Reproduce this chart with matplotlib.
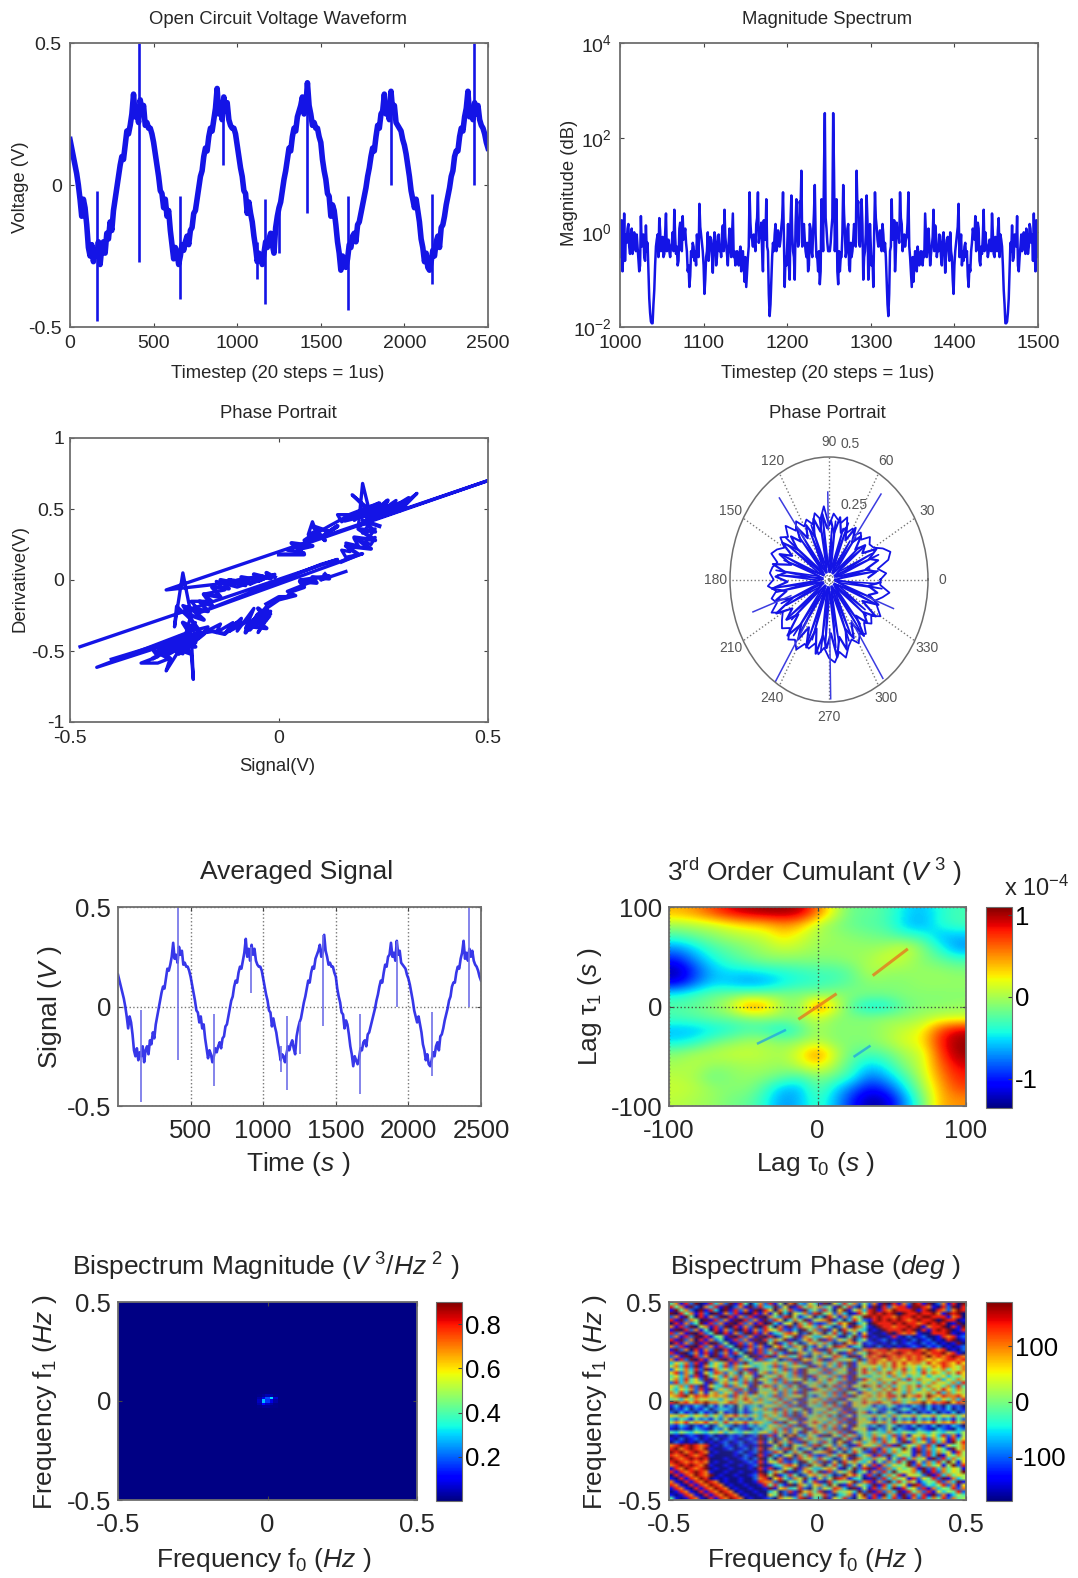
import numpy as np
import matplotlib
matplotlib.use("Agg")
import matplotlib.pyplot as plt

plt.rcParams['font.family'] = ['Liberation Sans', 'DejaVu Sans']
plt.rcParams['mathtext.fontset'] = 'custom'
plt.rcParams['mathtext.rm'] = 'Liberation Sans'
plt.rcParams['mathtext.it'] = 'Liberation Sans:italic'
plt.rcParams['mathtext.bf'] = 'Liberation Sans:bold'
plt.rcParams['text.color'] = '#262626'
plt.rcParams['axes.unicode_minus'] = False

# data
cycle1 = [.16,.13,.10,.07,.04,.0,-.05,-.11,-.05,-.08,-.14,-.22,-.25,-.21,-.27,-.23,-.25,-.20,-.28,-.22,-.20,-.24,-.17,-.19,-.13,-.16,-.09,-.05,-.01,.03,.07,.10,.09,.14,.19,.18,.21,.25,.32,.24,.26,.22,.30,.26,.28,.21,.22,.20,.20,.18]
cycle2 = [.15,.11,.07,.03,-.02,-.03,-.08,-.05,-.11,-.09,-.16,-.21,-.26,-.22,-.24,-.28,-.25,-.21,-.23,-.20,-.18,-.21,-.16,-.15,-.10,-.09,-.05,-.01,.03,.05,.10,.13,.12,.17,.20,.19,.23,.27,.34,.25,.29,.23,.31,.26,.29,.23,.21,.20,.20,.18]
cycle3 = [.14,.10,.06,.03,-.02,-.03,-.10,-.06,-.10,-.13,-.18,-.22,-.27,-.24,-.25,-.28,-.24,-.20,-.22,-.19,-.17,-.21,-.24,-.15,-.11,-.08,-.06,-.02,.02,.05,.09,.13,.12,.17,.20,.19,.24,.26,.28,.31,.25,.27,.36,.28,.25,.21,.22,.20,.20,.17]
cycle4 = [.15,.09,.05,.02,-.03,-.04,-.11,-.07,-.09,-.14,-.20,-.24,-.30,-.25,-.27,-.29,-.26,-.21,-.22,-.18,-.17,-.20,-.14,-.13,-.10,-.07,-.04,-.01,.03,.06,.10,.13,.12,.17,.21,.20,.25,.26,.32,.25,.27,.23,.33,.26,.28,.22,.21,.20,.19,.16]
cycle5 = [.14,.11,.07,.03,-.02,-.05,-.08,-.05,-.09,-.13,-.19,-.22,-.27,-.24,-.29,-.30,-.27,-.23,-.25,-.20,-.18,-.22,-.15,-.14,-.11,-.07,-.04,-.01,.03,.05,.10,.12,.12,.17,.20,.19,.24,.27,.33,.24,.27,.23,.29,.25,.28,.23,.21,.20,.18,.15,.13]
signal = cycle1 + cycle2 + cycle3 + cycle4 + cycle5
timestep = np.arange(len(signal)) * 10

spike_x = [160, 415, 660, 915, 1120, 1165, 1250, 1415, 1665, 1920, 2165, 2415]
spike_lo = [-.48, -.27, -.40, .07, -.33, -.42, -.24, -.10, -.44, .0, -.35, .0]
spike_hi = [-.02, .50, -.04, .30, -.20, -.05, -.08, .36, -.04, .33, -.03, .50]

# spectrum is symmetric about 1250: odd steps 1001..1249, even steps 1000..1248
mag_odd = [.3,.15,2.5,.9,1.2,.5,.8,.35,1.0,.4,
           .5,.15,2.2,.7,.3,1.4,.6,.04,.013,.012,
           .06,.5,.9,2.0,.4,.8,.35,2.5,.6,.4,
           .5,1.0,3.0,.35,.2,1.2,.5,2.2,.9,.6,
           .15,.07,.4,.6,.25,.2,.5,4.0,.9,.4,
           .05,.3,1.0,.5,.7,.14,1.0,.2,.6,.4,
           .3,1.4,3.0,.5,.2,1.2,.3,2.5,.4,.3,
           .25,.35,.15,.4,.09,.07,.3,7.0,.8,.5,
           .6,1.5,7.0,.9,1.6,.15,.9,5.0,.4,.017,
           .1,.6,.9,.4,1.1,.5,1.3,7.0,.07,.2,
           1.5,.1,6.0,.4,.1,5.0,.5,4.5,20,1.0,
           .7,.3,.15,1.5,.4,1.0,10,.3,.15,.08,
           5,.4,330,1.2,.4]
mag_even = [.5,1.8,.4,.25,.6,1.5,.35,1.2,.7,.5,
            .9,.3,.2,.5,.9,.25,.4,.15,.02,.012,
            .03,.2,.7,.3,1.1,.5,.3,.9,.4,.7,
            .3,.6,.4,.8,.5,.25,1.6,.4,.7,1.2,
            .4,.2,.12,.3,.5,.4,.9,.3,1.3,.6,
            .2,.1,.4,.25,.8,.3,.5,.8,.3,.9,
            .5,.9,.4,.8,.35,.6,.5,.9,.3,.2,
            .4,.2,.5,.3,.2,.3,.15,.5,1.6,.7,
            .9,.4,2.0,.6,.8,.4,1.8,.7,.5,.05,
            .03,.3,.4,1.5,.5,.8,.7,2.0,.9,.3,
            .5,.2,1.8,.9,.3,1.4,1.2,.6,3.5,.5,
            1.5,.4,.6,.2,1.2,.3,2.5,.9,.3,.4,
            .15,1.5,20,2,.6]
mag_half = [v for pair in zip(mag_even, mag_odd) for v in pair]
mag = mag_half + [.4] + mag_half[::-1]
mag_x = np.arange(1000, 1501)

pp_signal = [-.476,.14,.10,-.19,.20,.16,.15,.17,.16,.19,.18,.22,.23,.21,.23,.20,.22,.19,.20,.215,.175,.22,.25,.23,.28,.26,.30,.27,.33,.30,.31,.26,.29,.24,.27,.21,.26,.20,.24,.19,.22,.18,.20,.15,.14,.17,.12,.09,.08,.07,.10,.06,.09,.04,.06,.02,.50,-.27,-.15,-.12,-.08,-.10,-.04,-.07,-.01,-.05,-.03,-.10,-.15,-.13,-.18,-.16,-.21,-.19,-.23,-.21,-.245,-.25,-.23,-.21,-.22,-.20,-.23,-.21,-.205,-.21,-.24,-.27,-.26,-.29,-.33,-.29,-.30,-.26,-.28,-.23,-.25,-.21,-.436,-.21,-.17,-.18,-.14,-.15,-.11,-.13,-.09,-.10,-.06,-.08,-.03,-.06,-.02,-.05,-.03,-.07,-.02,-.03,.0,.04,.02,.08,.05,.12,.10,.14,.16]
pp_deriv = [-.47,.145,.11,-.23,.185,.16,.21,.20,.26,.24,.29,.25,.30,.28,.36,.33,.41,.38,.68,.50,.60,.47,.53,.46,.56,.48,.53,.47,.61,.52,.58,.49,.50,.44,.50,.42,.52,.40,.50,.46,.52,.42,.50,.41,.46,.46,.38,.33,.41,.32,.36,.28,.30,.20,.19,.21,.70,-.07,-.03,-.01,-.04,.0,.03,-.03,.04,-.01,.02,-.05,-.01,-.07,-.10,-.15,-.15,-.22,-.18,-.28,-.185,-.33,.05,-.25,-.34,-.30,-.42,-.38,-.70,-.51,-.50,-.64,-.55,-.585,-.585,-.54,-.50,-.56,-.47,-.52,-.44,-.40,-.615,-.36,-.33,-.37,-.31,-.37,-.30,-.38,-.27,-.36,-.20,-.34,-.19,-.30,-.22,-.37,-.28,-.33,-.24,-.20,-.14,-.11,-.08,-.01,.0,.03,.0,.04,.06]
nan = np.nan
blob_signal = [-.30,-.22,-.29,-.20,-.27,-.19,-.26,-.21,-.24,-.20,-.27,-.18,-.24,-.22,-.20,-.23,-.19,-.22,-.18,-.21,-.17,-.19,-.16,-.18,-.14,-.16,-.12,-.14,-.09,-.12,-.07,-.09,-.05,-.06,-.02,-.03,-.01,nan,
               -.40,-.20,-.16,-.13,-.10,-.12,-.07,-.08,-.05,-.07,-.03,-.06,-.03,-.06,-.03,-.05,-.025,nan,
               -.03,.0,.02,.03,.06,.05,.09,.08,.12,.11,nan,
               .15,.19,.16,.22,.18,.23,.19,.23,.20,.24,nan,
               .16,.27,.18,.30,.21,.26,.23,.29,.20,.24,.17,.28,.25,.31,nan,
               .0,.06,.03,.08,.05,.09,.11,.08,.12,.14,.10]
blob_deriv = [-.55,-.42,-.50,-.38,-.53,-.40,-.47,-.52,-.40,-.47,-.46,-.38,-.52,-.36,-.44,-.30,-.36,-.24,-.28,-.20,-.22,-.15,-.18,-.10,-.12,-.05,-.06,.0,-.03,.0,-.02,.02,.0,.04,.01,.05,.02,nan,
              -.56,-.38,-.36,-.38,-.30,-.36,-.28,-.37,-.24,-.35,-.22,-.33,-.34,-.28,-.28,-.20,-.26,nan,
              -.17,-.12,-.12,-.08,-.05,-.01,-.02,.02,.01,.04,nan,
              .13,.18,.24,.22,.30,.28,.36,.34,.42,.38,nan,
              .42,.50,.44,.55,.44,.56,.46,.49,.48,.54,.46,.52,.47,.57,nan,
              .18,.18,.26,.24,.22,.33,.28,.38,.34,.38,.30]

ring_r = [.26,.29,.25,.31,.33,.30,.26,.25,.27,.23,
          .25,.22,.24,.21,.27,.24,.25,.27,.22,.30,
          .25,.28,.24,.27,.25,.29,.26,.31,.27,.30,
          .26,.29,.31,.27,.29,.30,.28,.31,.27,.30,
          .28,.32,.27,.29,.31,.28,.32,.30,.33,.29,
          .30,.27,.31,.28,.32,.34,.30,.33,.29,.27,
          .30,.27,.29,.25,.28,.26,.30,.27,.25,.28,.31,.26]
ring_theta = list(range(0, 360, 5))
ring2_r = [.20,.24,.19,.26,.22,.27,.20,.23,.18,.24,
           .19,.25,.18,.23,.20,.26,.19,.24,.21,.27,
           .20,.26,.19,.25,.20,.27,.21,.26,.20,.28,
           .21,.27,.20,.29,.22,.27,.21,.29,.22,.28,
           .20,.30,.22,.27,.21,.31,.23,.29,.22,.30,
           .21,.31,.23,.28,.22,.32,.24,.30,.22,.27,
           .21,.29,.20,.26,.22,.28,.19,.27,.21,.25,.20,.26]
long_theta = [53, 91, 127, 199, 237, 271, 304, 340]
long_r = [.44, .36, .42, .41, .50, .49, .49, .35]
inner_theta = [0,8,15,22,30,37,45,52,60,67,75,82,90,97,105,112,120,127,135,142,150,157,165,172,180,187,195,202,210,217,225,232,240,247,255,262,270,277,285,292,300,307,315,322,330,337,345,352,360]
inner_r = [.03,.25,.04,.27,.03,.23,.05,.22,.03,.25,.04,.24,.03,.27,.05,.24,.03,.25,.04,.28,.03,.26,.05,.27,.03,.29,.04,.26,.03,.27,.05,.29,.03,.28,.04,.30,.03,.28,.05,.27,.03,.26,.04,.24,.03,.26,.05,.27,.03]
inner2_theta = [4,12,19,26,34,41,49,56,64,71,79,86,94,101,109,116,124,131,139,146,154,161,169,176,184,191,199,206,214,221,229,236,244,251,259,266,274,281,289,296,304,311,319,326,334,341,349,356]
inner2_r = [.05,.21,.03,.24,.05,.20,.03,.19,.05,.22,.03,.21,.05,.25,.03,.22,.05,.23,.03,.25,.05,.24,.03,.26,.05,.27,.03,.24,.05,.25,.03,.27,.05,.26,.03,.28,.05,.26,.03,.25,.05,.24,.03,.22,.05,.23,.03,.24]

lag_ticks = [-100, 0, 100]
cumulant = [  # units 1e-4, tau1 = 100 down to -100, tau0 = -100 to 100
    [.4,.5,.7,.9,1.0,1.05,1.05,1.0,.6,.1,-.2,-.2,-.3,-.5,-.6,-.4,-.3],
    [.0,.05,.1,.2,.3,.35,.5,.4,.05,-.1,-.2,-.25,-.3,-.55,-.65,-.4,-.3],
    [-.3,-.2,-.1,0,.05,.1,.3,.15,0,-.05,-.1,-.15,-.2,-.3,-.35,-.6,-.6],
    [-.7,-.5,-.3,-.2,-.1,0,.1,.05,-.05,-.05,-.05,-.05,.0,.15,-.1,-.4,-.7],
    [-1.0,-.7,-.45,-.3,-.2,-.1,-.1,-.1,-.1,-.1,-.05,.0,.15,.05,-.1,-.2,-.3],
    [-1.3,-.9,-.6,-.5,-.5,-.45,-.4,-.35,-.3,-.3,-.2,.05,-.05,-.05,-.05,-.05,-.1],
    [-1.1,-.8,-.55,-.6,-.7,-.65,-.5,-.4,-.35,-.3,-.2,-.1,-.1,-.1,-.05,-.05,-.05],
    [-.4,-.3,-.2,-.15,-.1,-.1,-.1,-.1,-.1,-.05,-.1,-.15,-.15,-.1,-.1,-.1,-.1],
    [-.25,-.2,-.1,.1,.6,.5,0,-.1,.7,.2,-.3,-.5,-.45,-.2,-.1,-.1,-.05],
    [-.3,-.25,-.2,-.2,-.15,-.1,-.1,-.05,.1,-.1,-.1,-.1,-.05,-.05,0,.1,.1],
    [-.6,-.6,-.5,-.4,-.3,-.35,-.5,-.3,0,-.1,-.1,-.1,0,.1,.2,.7,.95],
    [-.5,-.4,-.2,-.1,0,0,-.1,-.05,.05,-.1,-.1,-.1,0,.15,.25,.8,1.05],
    [-.1,0,.05,.1,.1,.05,0,.2,.6,.1,-.2,-.3,-.2,0,.1,.7,1.05],
    [0,.05,-.05,-.05,0,0,-.05,.1,.3,0,-.3,-.55,-.4,-.1,.1,.6,.9],
    [.05,0,-.2,-.1,-.05,-.1,-.2,-.3,-.1,-.2,-.4,-.8,-.6,-.3,.05,.5,.8],
    [.1,.05,-.05,-.1,-.1,-.3,-.6,-.6,-.2,-.5,-.8,-1.05,-.9,-.5,-.05,.4,.7],
    [.05,0,-.05,-.15,-.2,-.4,-.7,-.6,-.3,-.6,-1.0,-1.3,-1.2,-.7,-.2,.4,.5],
]
# thin diagonal ridges in the cumulant
ridge_x = [38, 60, nan, -12, 12]
ridge_y = [32, 57, nan, -12, 12]
trough_x = [-40, -22, nan, 25, 35]
trough_y = [-37, -24, nan, -50, -40]

bis_edges = [-.5, -.035, -.02, -.008, .008, .02, .035, .5]
bis_mag = [
    [.005,.005,.005,.006,.005,.005,.005],
    [.005,.01,.02,.04,.03,.01,.005],
    [.005,.03,.08,.18,.30,.06,.005],
    [.006,.05,.28,.16,.08,.03,.006],
    [.005,.03,.10,.05,.03,.01,.005],
    [.005,.01,.02,.02,.01,.01,.005],
    [.005,.005,.005,.006,.005,.005,.005],
]

# phase cells, digit d means -180 + 40*d degrees, top row is f1 = 0.5
phase_rows = [
    "4718290183 7291840372 8150793264 1906384725 2719081729 8190271809",
    "8471920738 1902719283 3926018475 7351948206 1908278819 9871082908",
    "1947209183 0918271908 6074821935 2840691573 8918798889 1890872798",
    "9084718209 1728190817 1593064728 9462730185 8989890988 9889719890",
    "2719408172 9081728190 7428951360 3085172649 9898879889 8998881780",
    "8192750918 2719082719 2860374915 6791403852 1898989878 9889098801",
    "0817249182 7190827180 9315607482 1274869035 0988898988 7898980190",
    "7182905718 2908172908 4071928563 8530261974 1098878898 9178890819",
    "1908271408 1729081728 6582130947 2916085743 0109888989 0818989018",
    "8271908249 0817290817 1347860295 7048392516 1001908787 1008889101",
    "2718290814 5190827190 8026491753 3675104928 0100181020 1200187812",
    "8192708172 4018271908 3759102684 9182647035 1012010102 0120108901",
    "0817291809 2501827190 5913840267 4730296851 2101020121 0212010190",
    "7281908271 8240918271 0684275931 6259871340 1020101012 1021201012",
    "1927081729 0814027182 7290536148 1083546927 8788978889 8798780102",
    "8190271819 2718409182 4831907526 7395018264 9878789878 8978897810",
    "2719082709 1820250918 9167348205 2648730915 8789878787 8797878987",
    "7182908172 9081735182 3502819674 8017456392 7876877687 8767678878",
    "3647281936 4718293546 5746382915 6374829164 7867586867 7586787686",
    "5738291746 3827465345 3827465391 7263849156 5647586756 4657687657",
    "2647382917 4637281945 4638271956 3827461958 4736475846 3746574657",
    "6827491638 7263948157 2746381954 7283649158 6475864756 4857647586",
    "4637281946 3847265194 6485372918 4637281954 3546374635 4635463546",
    "5738462917 4628374956 3827465931 6485371928 6475647384 7564736475",
    "2837465192 5746382915 4738291645 7364829156 4637485645 3647564738",
    "6473829164 3827461958 7263849156 3948271659 7584736475 8475647384",
    "5364728193 6472839154 5847362918 6473829145 3647586475 3647586475",
    "7483926157 3648271956 4627381945 5738294617 6475846374 6574837465",
    "6789687867 6728574635 3827465931 4637281956 7576885967 8597687786",
    "4536475645 3647586374 6483729156 7382916457 5464736453 6475364738",
    "8978687977 5687467564 3748261957 4829371658 6786587467 7968789687",
    "1302132031 4130523425 6473829154 3748291656 4132531213 2031203120",
    "0213021302 3320413647 3827364915 6483719254 3521302430 2130213021",
    "2031203120 5120312435 5748392615 3746281957 1302530213 0213021302",
    "6576465746 3768574637 4638291745 7483926154 5746374657 4657465746",
    "3243142314 2514231435 7364829156 4637281956 3142514231 4231423142",
    "5768576857 4857685764 3829461758 6374829165 6857485768 5768576857",
    "2132021302 5320213243 6473829156 3847261954 2302530213 0213021320",
    "1021032103 2503210324 5738264917 4738291656 1032503210 3210321032",
    "4354354354 6354354356 3847261958 6374829145 3543743543 5435435435",
    "0101210120 1021201291 8150793264 1906384725 3746382716 5746382715",
    "1020120102 0121012190 3926018475 7351948206 4827361847 3827461836",
    "0210102010 1201201281 6074821935 2840691573 5738462917 4628371958",
    "7898987801 0210210190 1593064728 9462730185 6472819364 7283916457",
    "8978987910 0120120280 7428951360 3085172649 2817364951 8273641957",
    "9897898701 0001201291 2860374915 6791403852 1928374651 9283746185",
    "8789878910 0001021081 9315607482 1274869035 7182936451 7283916475",
    "9878989800 0100120290 4071928563 8530261974 3746152837 4619283746",
    "8987878701 0010012181 6582130947 2916085743 6152738491 6273849516",
    "7898987910 0100101290 1347860295 7048392516 2817364592 8374615928",
    "1879878901 0010001081 8026491753 3675104928 9182736457 1928374651",
    "8187898710 0100100190 3759102684 9182647035 1728394657 3918274659",
    "0818798790 1001001289 5913840267 4730296851 8293748165 5291837465",
    "1081879801 0100100278 0684275931 6259871340 1928374618 2648291735",
    "7108187987 0100100187 7290536148 1083546927 8172938475 1354827391",
    "8710818798 7010010018 4831907526 7395018264 2918374619 8243582716",
    "1871081879 8701001001 9167348205 2648730915 1827391846 2817354827",
    "0187108187 9870100100 3502819674 8017456392 9182739184 7281635482",
    "1018710818 7987010010 6492017385 5820347169 2819371928 3819271354",
    "4101871081 8798701001 2075638914 3916482057 1827382917 2837482745",
]
# the picture greys out towards the centre
phase_veil = [[.10,.15,.30,.15,.10],
              [.15,.35,.50,.35,.15],
              [.25,.50,.60,.50,.25],
              [.15,.35,.50,.35,.15],
              [.10,.15,.30,.15,.10]]

W, H = 1078, 1578
fig = plt.figure(figsize=(W / 100, H / 100), dpi=100)
BLUE = '#1414e6'
GRAY = '#6e6e6e'


def add_ax(x0, y0, x1, y1, **kw):
    return fig.add_axes([x0 / W, 1 - y1 / H, (x1 - x0) / W, (y1 - y0) / H], **kw)


def label(x, y, s, size, rotation=0):
    fig.text(x / W, 1 - y / H, s, fontsize=size, rotation=rotation, ha='center', va='center')


def style(ax, size, pad=3):
    for sp in ax.spines.values():
        sp.set_color(GRAY)
        sp.set_linewidth(1.3)
    ax.tick_params(which='both', direction='in', top=True, right=True, length=3, width=0.8,
                   color='#444444', labelsize=size, labelcolor='#262626', pad=pad)


# top left
ax = add_ax(70, 43, 488, 327)
ax.plot(timestep, signal, color=BLUE, lw=4.0)
ax.vlines(spike_x, spike_lo, spike_hi, color=BLUE, lw=1.9)
ax.set_xlim(0, 2500)
ax.set_ylim(-.5, .5)
ax.set_xticks(range(0, 2501, 500))
ax.set_yticks([-.5, 0, .5], ['-0.5', '0', '0.5'])
style(ax, 14, pad=6)
label(278, 20, 'Open Circuit Voltage Waveform', 13.3)
label(21, 187, 'Voltage (V)', 13.3, 90)
label(278, 373, 'Timestep (20 steps = 1us)', 13.3)

# top right
ax = add_ax(620, 43, 1038, 327)
ax.semilogy(mag_x, mag, color=BLUE, lw=1.8)
ax.set_xlim(1000, 1500)
ax.set_ylim(1e-2, 1e4)
ax.set_xticks(range(1000, 1501, 100))
ax.set_yticks([1e-2, 1, 1e2, 1e4], ['$10^{-2}$', '$10^{0}$', '$10^{2}$', '$10^{4}$'])
ax.minorticks_off()
style(ax, 14, pad=6)
ax.tick_params(axis='y', pad=6)
label(827, 20, 'Magnitude Spectrum', 13.3)
label(569, 183, 'Magnitude (dB)', 13.3, 90)
label(828, 373, 'Timestep (20 steps = 1us)', 13.3)

# phase portrait, cartesian
ax = add_ax(70, 438, 488, 722)
ax.plot(pp_signal, pp_deriv, color=BLUE, lw=2.4)
ax.plot(blob_signal, blob_deriv, color=BLUE, lw=3.0)
ax.set_xlim(-.5, .5)
ax.set_ylim(-1, 1)
ax.set_xticks([-.5, 0, .5], ['-0.5', '0', '0.5'])
ax.set_yticks([-1, -.5, 0, .5, 1], ['-1', '-0.5', '0', '0.5', '1'])
style(ax, 14, pad=6)
ax.tick_params(axis='y', pad=4)
label(278, 414, 'Phase Portrait', 13.3)
label(20, 578, 'Derivative(V)', 13.3, 90)
label(277, 767, 'Signal(V)', 13.3)

# phase portrait, polar
ax = add_ax(730, 457, 928, 702, projection='polar')
ax.set_aspect('auto')
ax.plot(np.deg2rad(ring_theta + ring_theta[:1]), ring_r + ring_r[:1], color=BLUE, lw=1.3)
ax.plot(np.deg2rad(np.array(ring_theta) + 2.5), ring2_r, color=BLUE, lw=1.6)
ax.plot(np.deg2rad(inner_theta), inner_r, color=BLUE, lw=1.2)
ax.plot(np.deg2rad(inner2_theta), inner2_r, color=BLUE, lw=1.2)
ax.vlines(np.deg2rad(long_theta), .2, long_r, color='#3c3ce0', lw=1.1)
ax.set_rlim(0, .5)
ax.set_rticks([.25, .5], ['', ''])
ax.set_thetagrids(range(0, 360, 30), [str(a) for a in range(0, 360, 30)])
ax.grid(axis='x', color='#777777', linestyle=':', lw=1.0)
ax.grid(axis='y', visible=False)
ax.spines['polar'].set_color(GRAY)
ax.spines['polar'].set_linewidth(1.1)
ax.tick_params(axis='x', labelsize=10, labelcolor='#555555', pad=0)
ax.text(np.deg2rad(67), .33, '0.25', fontsize=10, color='#555555', ha='center', va='center')
ax.text(np.deg2rad(79), .565, '0.5', fontsize=10, color='#555555', ha='center', va='center')
label(827, 414, 'Phase Portrait', 13.3)

# averaged signal
ax = add_ax(118, 907, 481, 1106)
ax.plot(timestep, signal, color=BLUE, lw=1.9, alpha=.85)
ax.vlines(spike_x, spike_lo, spike_hi, color='#7070e8', lw=1.2)
ax.set_xlim(0, 2500)
ax.set_ylim(-.5, .5)
ax.set_xticks(range(500, 2501, 500))
ax.set_yticks([-.5, 0, .5], ['-0.5', '0', '0.5'])
ax.grid(color='#777777', linestyle=':', lw=1.0)
style(ax, 18.5, pad=9)
ax.tick_params(axis='y', pad=5)
label(297, 872, 'Averaged Signal', 19)
label(50, 1007, r'Signal ($\mathit{V}$ )', 19, 90)
label(298, 1164, r'Time ($\mathit{s}$ )', 19)

# cumulant
ax = add_ax(669, 907, 966, 1106)
im = ax.imshow(cumulant, cmap='jet', vmin=-1.36, vmax=1.1, extent=[-100, 100, -100, 100],
               aspect='auto', interpolation='bicubic')
ax.plot(ridge_x, ridge_y, color='#e8701c', lw=2.2, alpha=.75)
ax.plot(trough_x, trough_y, color='#1c9ce8', lw=1.8, alpha=.7)
ax.set_xlim(-100, 100)
ax.set_ylim(-100, 100)
ax.set_xticks(lag_ticks)
ax.set_yticks(lag_ticks)
ax.grid(color='#445544', linestyle=':', lw=1.0)
style(ax, 18.5, pad=9)
ax.tick_params(axis='y', pad=5)
cax = add_ax(986, 907, 1012, 1108)
cb = fig.colorbar(im, cax=cax, ticks=[-1, 0, 1])
cb.ax.tick_params(labelsize=18.5, length=3, direction='in', pad=2, color='#444444')
cb.outline.set_edgecolor(GRAY)
label(815, 872, r'3$^{\mathrm{rd}}$ Order Cumulant ($\mathit{V}^{\ 3}$ )', 19)
label(590, 1007, r'Lag $\mathrm{\tau}_{1}$ ($\mathit{s}$ )', 19, 90)
label(815, 1164, r'Lag $\mathrm{\tau}_{0}$ ($\mathit{s}$ )', 19)
label(1037, 888, r'x $10^{-4}$', 17)

# bispectrum magnitude
ax = add_ax(118, 1302, 417, 1500)
im = ax.pcolormesh(bis_edges, bis_edges[::-1], bis_mag, cmap='jet', vmin=0, vmax=.9)
ax.set_xlim(-.5, .5)
ax.set_ylim(-.5, .5)
ax.set_xticks([-.5, 0, .5], ['-0.5', '0', '0.5'])
ax.set_yticks([-.5, 0, .5], ['-0.5', '0', '0.5'])
style(ax, 18.5, pad=9)
ax.tick_params(axis='y', pad=5)
cax = add_ax(436, 1302, 462, 1501)
cb = fig.colorbar(im, cax=cax, ticks=[.2, .4, .6, .8])
cb.ax.tick_params(labelsize=18.5, length=3, direction='in', pad=2, color='#444444')
cb.outline.set_edgecolor(GRAY)
label(266, 1267, r'Bispectrum Magnitude ($\mathit{V}^{\ 3}\mathit{/Hz}^{\ 2}$ )', 19)
label(45, 1402, r'Frequency f$_{1}$ ($\mathit{Hz}$ )', 19, 90)
label(264, 1560, r'Frequency f$_{0}$ ($\mathit{Hz}$ )', 19)

# bispectrum phase
phase = [[-180 + 40 * int(c) for c in row.replace(' ', '').ljust(60, '4')[:60]] for row in phase_rows]
ax = add_ax(669, 1302, 966, 1500)
im = ax.imshow(phase, cmap='jet', vmin=-180, vmax=180, extent=[-.5, .5, -.5, .5],
               aspect='auto', interpolation='bilinear', interpolation_stage='rgba')
veil = np.array(phase_veil)
ax.imshow(np.full(veil.shape, .5), cmap='gray', vmin=0, vmax=1, alpha=veil, extent=[-.5, .5, -.5, .5],
          aspect='auto', interpolation='bilinear')
ax.set_xticks([-.5, 0, .5], ['-0.5', '0', '0.5'])
ax.set_yticks([-.5, 0, .5], ['-0.5', '0', '0.5'])
style(ax, 18.5, pad=9)
ax.tick_params(axis='y', pad=5)
cax = add_ax(986, 1302, 1012, 1501)
cb = fig.colorbar(im, cax=cax, ticks=[-100, 0, 100])
cb.ax.tick_params(labelsize=18.5, length=3, direction='in', pad=2, color='#444444')
cb.outline.set_edgecolor(GRAY)
label(815, 1267, r'Bispectrum Phase ($\mathit{deg}$ )', 19)
label(595, 1402, r'Frequency f$_{1}$ ($\mathit{Hz}$ )', 19, 90)
label(815, 1560, r'Frequency f$_{0}$ ($\mathit{Hz}$ )', 19)

fig.savefig('out.png', dpi=100)
